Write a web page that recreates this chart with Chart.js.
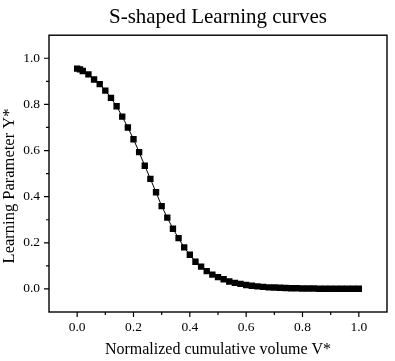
<!DOCTYPE html>
<html>
<head>
<meta charset="utf-8">
<title>S-shaped Learning curves</title>
<script src="https://cdn.jsdelivr.net/npm/chart.js@4/dist/chart.umd.min.js"></script>
<style>
  html, body { margin: 0; padding: 0; background: #fff; }
  #wrap { width: 395px; height: 361px; }
</style>
</head>
<body>
<div id="wrap"><canvas id="learningChart"></canvas></div>
<script>
const volumeV = [0.00, 0.01, 0.02, 0.04, 0.06, 0.08, 0.10, 0.12, 0.14, 0.16, 0.18, 0.20,
  0.22, 0.24, 0.26, 0.28, 0.30, 0.32, 0.34, 0.36, 0.38, 0.40, 0.42, 0.44, 0.46, 0.48,
  0.50, 0.52, 0.54, 0.56, 0.58, 0.60, 0.62, 0.64, 0.66, 0.68, 0.70, 0.72, 0.74, 0.76,
  0.78, 0.80, 0.82, 0.84, 0.86, 0.88, 0.90, 0.92, 0.94, 0.96, 0.98, 1.00];
const learningY = [0.955, 0.952, 0.945, 0.930, 0.908, 0.888, 0.860, 0.828, 0.792, 0.747, 0.700, 0.649,
  0.593, 0.534, 0.477, 0.419, 0.359, 0.309, 0.261, 0.220, 0.180, 0.148, 0.118, 0.097, 0.077, 0.062,
  0.051, 0.042, 0.032, 0.026, 0.022, 0.017, 0.014, 0.011, 0.009, 0.007, 0.006, 0.005, 0.004, 0.003,
  0.003, 0.002, 0.002, 0.002, 0.001, 0.001, 0.001, 0.001, 0.001, 0.001, 0.001, 0.001];
const tickLabels = ['0.0', '0.2', '0.4', '0.6', '0.8', '1.0'];

const serif = "'Liberation Serif', 'Times New Roman', serif";

function evenLabel(value) {
  const s = value.toFixed(1);
  return tickLabels.includes(s) ? s : '';
}

// frame around the plot plus major/minor outward ticks
const framePlugin = {
  id: 'frame',
  afterDraw(chart) {
    const { ctx, chartArea: a, scales } = chart;
    ctx.save();
    ctx.strokeStyle = '#000';
    ctx.lineWidth = 1.4;
    ctx.strokeRect(a.left, a.top, a.right - a.left, a.bottom - a.top);
    ctx.lineWidth = 1.2;
    ctx.beginPath();
    for (let i = 0; i <= 10; i++) {
      const v = i / 10;
      const len = i % 2 === 0 ? 5 : 3;
      const px = scales.x.getPixelForValue(v);
      ctx.moveTo(px, a.bottom);
      ctx.lineTo(px, a.bottom + len);
      const py = scales.y.getPixelForValue(v);
      ctx.moveTo(a.left, py);
      ctx.lineTo(a.left - len, py);
    }
    ctx.stroke();
    ctx.restore();
  }
};

const ctx = document.getElementById('learningChart').getContext('2d');
new Chart(ctx, {
  type: 'scatter',
  data: {
    datasets: [{
      label: 'Y*',
      data: volumeV.map((v, i) => ({ x: v, y: learningY[i] })),
      showLine: true,
      borderColor: '#000',
      borderWidth: 1,
      backgroundColor: '#000',
      pointStyle: 'rect',
      pointRadius: 4.5,
      pointBorderWidth: 0
    }]
  },
  options: {
    responsive: true,
    maintainAspectRatio: false,
    animation: false,
    layout: { padding: { top: 0, right: 8, bottom: 0, left: 0 } },
    plugins: {
      legend: { display: false },
      tooltip: { enabled: false },
      title: {
        display: true,
        text: 'S-shaped Learning curves',
        fullSize: false,
        color: '#000',
        font: { family: serif, size: 21, weight: 'normal' },
        padding: { top: 5, bottom: 5 }
      }
    },
    scales: {
      x: {
        type: 'linear',
        min: -0.1,
        max: 1.1,
        afterFit(scale) { scale.height = 49; },
        grid: { drawOnChartArea: false, drawTicks: false },
        border: { display: false },
        ticks: {
          stepSize: 0.1,
          autoSkip: false,
          maxRotation: 0,
          padding: 7,
          color: '#000',
          font: { family: serif, size: 13.5 },
          callback: evenLabel
        },
        title: {
          display: true,
          text: 'Normalized cumulative volume V*',
          color: '#000',
          font: { family: serif, size: 16 },
          padding: { top: 0, bottom: 2 }
        }
      },
      y: {
        min: -0.1,
        max: 1.1,
        afterFit(scale) { scale.width = 49; },
        grid: { drawOnChartArea: false, drawTicks: false },
        border: { display: false },
        ticks: {
          stepSize: 0.1,
          autoSkip: false,
          padding: 9,
          color: '#000',
          font: { family: serif, size: 13.5 },
          callback: evenLabel
        },
        title: {
          display: true,
          // trailing spaces nudge the label down, as in the original
          text: 'Learning Parameter Y*      ',
          color: '#000',
          font: { family: serif, size: 16.5 },
          padding: { top: 0, bottom: 0 }
        }
      }
    }
  },
  plugins: [framePlugin]
});
</script>
</body>
</html>
